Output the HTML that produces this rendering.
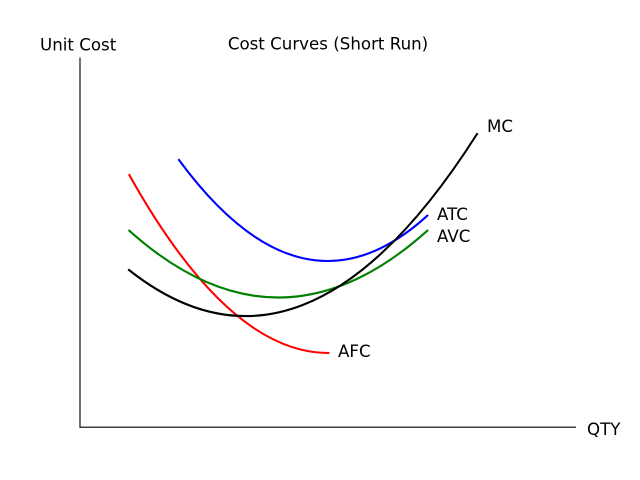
<!DOCTYPE html>
<html>
<head>
<meta charset="utf-8">
<style>
html,body{margin:0;padding:0;background:#fff;}
svg{display:block;}
text{font-family:"DejaVu Sans","Liberation Sans",sans-serif;font-size:16.67px;fill:#000;}
</style>
</head>
<body>
<svg width="640" height="480" viewBox="0 0 640 480" xmlns="http://www.w3.org/2000/svg">
<rect width="640" height="480" fill="#fff"/>
<!-- spines -->
<line x1="80" y1="57.6" x2="80" y2="427.7" stroke="#000" stroke-width="1.11"/>
<line x1="79.5" y1="427.2" x2="576" y2="427.2" stroke="#000" stroke-width="1.11"/>
<!-- curves -->
<g fill="none" stroke-width="2.08" stroke-linecap="square">
<path d="M129.3,175 Q228.8,353 328.3,353" stroke="#ff0000"/>
<path d="M129.3,230.7 Q278.3,364.3 427.3,230.7" stroke="#008000"/>
<path d="M179,160 Q303.15,328.66 427.3,215.7" stroke="#0000ff"/>
<path d="M129,270 Q303,407.7 477,134" stroke="#000000"/>
</g>
<!-- text -->
<text x="328" y="49.5" text-anchor="middle">Cost Curves (Short Run)</text>
<text x="40" y="50.5">Unit Cost</text>
<text x="587" y="435">QTY</text>
<text x="487" y="132">MC</text>
<text x="437" y="220">ATC</text>
<text x="437" y="242">AVC</text>
<text x="338" y="357">AFC</text>
</svg>
</body>
</html>
